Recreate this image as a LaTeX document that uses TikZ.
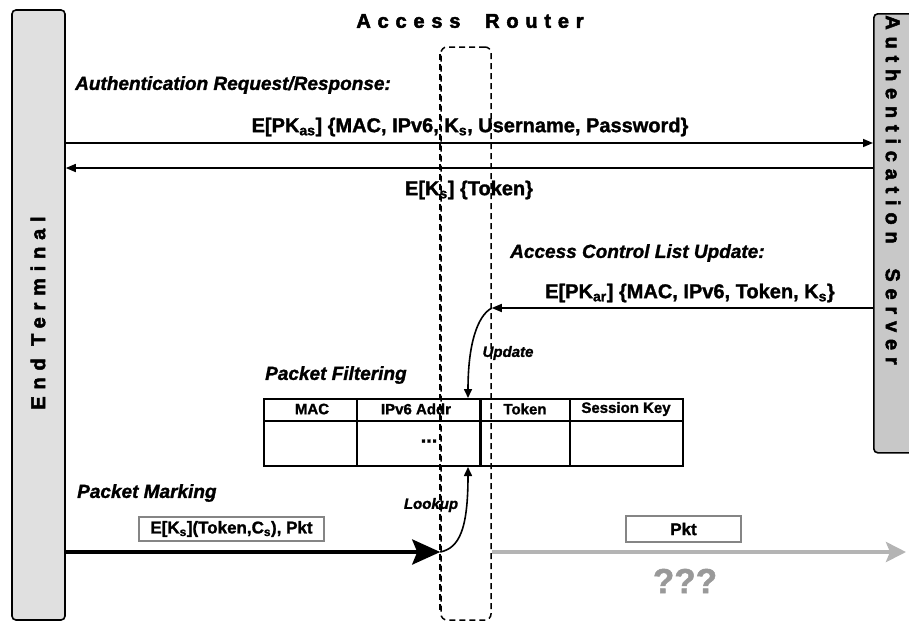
\documentclass[tikz,border=0pt]{standalone}
\usepackage{fontspec}
\setmainfont{Liberation Sans}[BoldFeatures={FakeBold=1.4}, BoldItalicFeatures={FakeBold=1.4}]
\newfontfamily\spacedfont{Liberation Sans}[LetterSpace=34, BoldFeatures={FakeBold=2.5}]
\usetikzlibrary{arrows.meta}
\definecolor{termgray}{HTML}{E0E0E0}
\definecolor{servgray}{HTML}{C8C8C8}
\definecolor{flowgray}{HTML}{B4B4B4}
\definecolor{qgray}{HTML}{999999}
\definecolor{boxgray}{HTML}{858585}
\tikzset{
  heading/.style={font=\spacedfont\bfseries\fontsize{20}{20}\selectfont, inner sep=0},
  msg/.style={font=\bfseries\fontsize{20}{20}\selectfont, inner sep=0},
  caption/.style={font=\bfseries\itshape\fontsize{19}{19}\selectfont, inner sep=0, anchor=west},
  minor/.style={font=\bfseries\itshape\fontsize{15}{15}\selectfont, inner sep=0},
  cell/.style={font=\bfseries\fontsize{15}{15}\selectfont, inner sep=0},
  link/.style={line width=1.6pt, -{Triangle[length=10pt,width=8pt]}},
  curvelink/.style={line width=1.6pt, -{Triangle[length=9pt,width=8pt]}},
  routerbox/.style={draw, dash pattern=on 6pt off 4pt, line width=1.5pt, rounded corners=6pt, inner sep=0},
  tagbox/.style={draw, line width=2pt, inner sep=0, font=\bfseries\fontsize{17}{17}\selectfont},
}
\begin{document}
\begin{tikzpicture}[x=1pt,y=-1pt]
\useasboundingbox (0,0) rectangle (909,622);
\clip (0,0) rectangle (909,622);

% end points of the three parties
\node[draw, line width=1.6pt, fill=termgray, rounded corners=4pt, inner sep=0,
      minimum width=53pt, minimum height=610pt] (ET) at (38.5,315) {};
\node[heading, rotate=90] (ETlabel) at (38,313) {End Terminal};

\node[draw, line width=1.6pt, fill=servgray, rounded corners=4pt, inner sep=0,
      minimum width=60pt, minimum height=439pt, anchor=north west] (AS) at (873,13) {};
\node[heading, rotate=-90] (ASlabel) at (893,190) {Authentication\ \ Server};

\node[routerbox, minimum width=50pt, minimum height=573pt] (AR) at (466,333.5) {};
\draw[dash pattern=on 6pt off 4pt, line width=2.2pt] ([yshift=-8pt]AR.north west) -- ([yshift=8pt]AR.south west);
\node[heading] (ARlabel) at (470,21) {Access\ \ Router};

% message rows
\coordinate (r1) at (0,143);
\coordinate (r2) at (0,168);
\coordinate (r3) at (0,308);
\coordinate (r4) at (0,552);
\coordinate (cx) at (468,0);
\coordinate (tip) at (906,552);

\node[caption] (authcap) at (75,85) {Authentication Request/Response:};
\node[msg] (m1) at (470,127) {E[PK\textsubscript{as}] \{MAC, IPv6, K\textsubscript{s}, Username, Password\}};
\draw[link] (ET.east |- r1) -- (AS.west |- r1);
\draw[link] (AS.west |- r2) -- (ET.east |- r2);
\node[msg] (m2) at (469,190) {E[K\textsubscript{s}] \{Token\}};

\node[caption] (aclcap) at (510,253) {Access Control List Update:};
\node[msg] (m3) at (690,293) {E[PK\textsubscript{ar}] \{MAC, IPv6, Token, K\textsubscript{s}\}};
\draw[link] (AS.west |- r3) -- (AR.east |- r3);

% filtering table
\node[caption] (filtcap) at (265,375) {Packet Filtering};
\node[draw, line width=2pt, inner sep=0, minimum width=419pt, minimum height=67pt,
      anchor=north west] (TB) at (263,398) {};
\draw[line width=1.4pt] (TB.west |- 0,421) -- (TB.east |- 0,421);
\draw[line width=1.4pt] (TB.north -| 357,0) -- (TB.south -| 357,0);
\draw[line width=3pt] (TB.north -| 480,0) -- (TB.south -| 480,0);
\draw[line width=1.4pt] (TB.north -| 570,0) -- (TB.south -| 570,0);
\node[cell] (hMAC) at (312,409) {MAC};
\node[cell] (hIP) at (416,409) {IPv6 Addr};
\node[cell] (hTok) at (525,409) {Token};
\node[cell] (hKey) at (626,409) {Session Key};
\node[font=\bfseries\fontsize{20}{20}\selectfont, inner sep=0] (dots) at (429,441) {...};

% update and lookup
\draw[curvelink] (AR.east |- r3) .. controls (477,316) and (468,345) .. (TB.north -| cx);
\node[minor] (upd) at (508,353) {Update};

\node[caption] (markcap) at (77,493) {Packet Marking};
\node[tagbox, draw=boxgray, minimum width=185pt, minimum height=24pt] (pk1) at (231.5,529)
  {E[K\textsubscript{s}](Token,C\textsubscript{s}), Pkt};
\draw[line width=4pt, -{Stealth[length=28pt,width=25pt,inset=5pt]}] (ET.east |- r4) -- (AR.west |- r4);
\draw[curvelink] (AR.west |- r4) .. controls (459,548) and (468,530) .. (TB.south -| cx);
\node[minor] (look) at (431,505) {Lookup};

\draw[flowgray, line width=4.5pt, -{Stealth[length=20pt,width=20pt,inset=4pt]}] (AR.east |- r4) -- (tip);
\node[tagbox, draw=boxgray, minimum width=115pt, minimum height=26pt] (pk2) at (683.5,529) {Pkt};
\node[font=\bfseries\fontsize{35}{35}\selectfont, text=qgray, inner sep=0] (qq) at (685,581) {???};
\end{tikzpicture}
\end{document}
